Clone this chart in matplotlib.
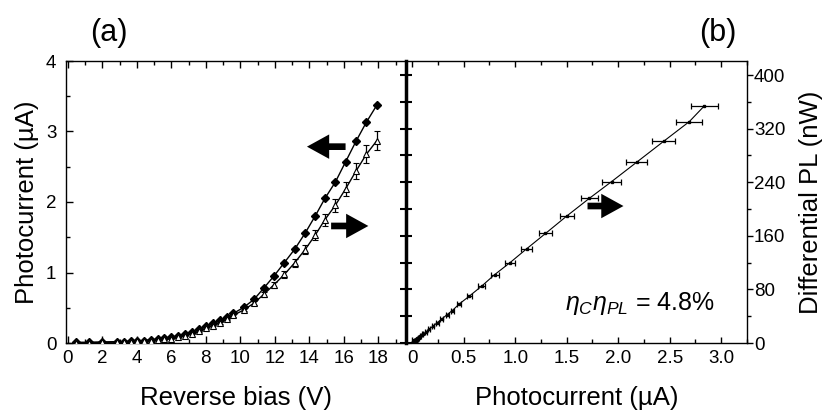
import matplotlib
matplotlib.use("Agg")
import matplotlib.pyplot as plt
from matplotlib.ticker import MultipleLocator, FuncFormatter, NullLocator

plt.rcParams['font.family'] = ['Liberation Sans', 'DejaVu Sans']
plt.rcParams['mathtext.fontset'] = 'custom'
plt.rcParams['mathtext.rm'] = 'Liberation Sans'
plt.rcParams['mathtext.it'] = 'Liberation Sans:italic'

# ---- data ----
bias_V = [0.5, 1.25, 2.0, 2.85, 3.25, 3.65, 4.0, 4.4, 4.85, 5.25, 5.6, 6.0, 6.4, 6.8,
          7.2, 7.6, 8.0, 8.4, 8.8, 9.2, 9.6, 10.2, 10.8, 11.35, 11.95, 12.55, 13.15,
          13.75, 14.35, 14.9, 15.5, 16.1, 16.7, 17.3, 17.9]
photocurrent_uA = [0.01, 0.01, 0.015, 0.02, 0.02, 0.025, 0.03, 0.035, 0.045, 0.055, 0.065,
                   0.08, 0.10, 0.125, 0.16, 0.205, 0.24, 0.28, 0.32, 0.365, 0.42, 0.506,
                   0.62, 0.776, 0.95, 1.14, 1.33, 1.556, 1.806, 2.05, 2.28, 2.57, 2.86,
                   3.13, 3.37]
diff_pl_nW = [0.5, 0.8, 1.0, 1.5, 1.8, 2.2, 2.7, 3.3, 4.2, 5.2, 6.3, 7.8, 10.0, 12.8,
              16.5, 20.5, 25.5, 30.5, 35.5, 42.5, 48.5, 58, 70, 85, 102, 120, 140.5,
              163.5, 189.5, 216, 241, 270, 301, 330.5, 354]
diff_pl_err_nW = [0.05, 0.05, 0.05, 0.1, 0.1, 0.1, 0.15, 0.15, 0.2, 0.25, 0.3, 0.4, 0.5,
                  0.6, 0.8, 1.0, 1.2, 1.4, 1.7, 2.0, 2.3, 2.7, 3.3, 4.0, 4.8, 5.7, 6.6,
                  7.7, 9.0, 10.2, 11.3, 12.7, 14.2, 15.6, 16.6]
photocurrent_b_uA = [0.004, 0.0064, 0.008, 0.012, 0.0145, 0.0177, 0.0217, 0.0265, 0.034,
                     0.042, 0.051, 0.063, 0.08, 0.103, 0.133, 0.165, 0.205, 0.245, 0.285,
                     0.34, 0.39, 0.455, 0.555, 0.675, 0.80, 0.95, 1.11, 1.294, 1.50, 1.72,
                     1.936, 2.18, 2.44, 2.69, 2.836]
photocurrent_b_err_uA = [0.0002, 0.0003, 0.0004, 0.0006, 0.0007, 0.0008, 0.001, 0.0012,
                         0.0016, 0.002, 0.0024, 0.003, 0.004, 0.005, 0.006, 0.008, 0.009,
                         0.011, 0.013, 0.016, 0.018, 0.021, 0.026, 0.032, 0.038, 0.045,
                         0.052, 0.061, 0.070, 0.081, 0.091, 0.103, 0.115, 0.127, 0.134]
annotation_text = r'$\eta_C\eta_{PL}$ = 4.8%'

fig = plt.figure(figsize=(8.25, 4.11), dpi=100)
W, H = 825, 411
x0, xm, x1 = 66, 406, 747
ytop, ybot = 61, 343
rect_a = [x0 / W, 1 - ybot / H, (xm - x0) / W, (ybot - ytop) / H]
rect_b = [xm / W, 1 - ybot / H, (x1 - xm) / W, (ybot - ytop) / H]
axa = fig.add_axes(rect_a)
axt = fig.add_axes(rect_a, label='pl_scale')
axb = fig.add_axes(rect_b)
axl = fig.add_axes(rect_b, label='shared_ticks')

LBL = 18.5
TCK = 13.5

# ---- panel (a) ----
axa.plot(bias_V, photocurrent_uA, color='k', lw=1.0, marker='D', ms=3.8,
         mfc='k', mec='k', zorder=3)
axa.set_xlim(-0.1, 19.6)
axa.set_ylim(0, 4)
axt.errorbar(bias_V, diff_pl_nW, yerr=diff_pl_err_nW, color='k', lw=1.0,
             marker='^', ms=4.3, mfc='white', mec='k', mew=0.8,
             ecolor='k', elinewidth=0.9, capsize=2.5, capthick=0.9)
axt.set_xlim(axa.get_xlim())
axt.set_ylim(0, 494)
axt.set_axis_off()

axa.spines['right'].set_visible(False)
for s in ['left', 'bottom', 'top']:
    axa.spines[s].set_linewidth(1.0)
axa.xaxis.set_major_locator(MultipleLocator(2))
axa.xaxis.set_minor_locator(MultipleLocator(1))
axa.yaxis.set_major_locator(MultipleLocator(1))
axa.yaxis.set_minor_locator(MultipleLocator(0.5))
axa.tick_params(which='both', direction='in', top=True, right=False, labelsize=TCK)
axa.tick_params(which='major', length=5, width=1)
axa.tick_params(which='minor', length=3, width=1)
axa.tick_params(axis='x', pad=5)
axa.tick_params(axis='y', pad=7)
axa.set_xlabel('Reverse bias (V)', fontsize=LBL, labelpad=14)
axa.set_ylabel('Photocurrent (\u00b5A)', fontsize=LBL, labelpad=5)

arrow = dict(arrowstyle='simple,head_length=1.0,head_width=1.1,tail_width=0.3',
             mutation_scale=16, color='k', lw=0)
axt.annotate('', xy=(13.7, 2.785 * 123.5), xytext=(16.26, 2.785 * 123.5), arrowprops=arrow)
axt.annotate('', xy=(17.58, 1.66 * 123.5), xytext=(15.1, 1.66 * 123.5), arrowprops=arrow)
axa.text(0.126, 1.10, '(a)', transform=axa.transAxes, fontsize=22, ha='center', va='center')

# ---- panel (b) ----
axb.errorbar(photocurrent_b_uA, diff_pl_nW, xerr=photocurrent_b_err_uA, color='k',
             lw=0.8, marker='s', ms=1.8, mfc='k', mec='k',
             ecolor='k', elinewidth=0.9, capsize=2.5, capthick=0.9)
axb.set_xlim(-0.06, 3.25)
axb.set_ylim(0, 421)
axb.spines['left'].set_linewidth(2.5)
for s in ['right', 'bottom', 'top']:
    axb.spines[s].set_linewidth(1.0)
axb.xaxis.set_major_locator(MultipleLocator(0.5))
axb.xaxis.set_minor_locator(MultipleLocator(0.25))
axb.yaxis.set_major_locator(MultipleLocator(80))
axb.yaxis.set_minor_locator(MultipleLocator(40))
axb.xaxis.set_major_formatter(FuncFormatter(lambda v, p: '0' if abs(v) < 1e-9 else f'{v:.1f}'))
axb.tick_params(axis='x', which='both', direction='in', top=True, bottom=True,
                labelsize=TCK, pad=5)
axb.tick_params(axis='y', which='both', direction='out', left=False, right=True,
                labelleft=False, labelright=True, labelsize=TCK, pad=1)
axb.tick_params(which='major', length=4, width=1)
axb.tick_params(which='minor', length=3, width=1)
axb.yaxis.set_label_position('right')
axb.set_xlabel('Photocurrent (\u00b5A)', fontsize=LBL, labelpad=14)
axb.set_ylabel('Differential PL (nW)', fontsize=LBL, labelpad=10)

# ticks crossing the thick shared line
axl.set_ylim(axb.get_ylim())
axl.patch.set_visible(False)
for s in axl.spines.values():
    s.set_visible(False)
axl.xaxis.set_major_locator(NullLocator())
axl.yaxis.set_major_locator(MultipleLocator(40))
axl.tick_params(axis='y', which='major', direction='inout', length=8, width=1.5,
                left=True, right=False, labelleft=False, labelright=False)

axb.annotate('', xy=(2.078, 204.5), xytext=(1.675, 204.5), arrowprops=arrow)
axb.text(0.685, 0.14, annotation_text, transform=axb.transAxes, fontsize=18,
         ha='center', va='center')
axb.text(0.913, 1.10, '(b)', transform=axb.transAxes, fontsize=22, ha='center', va='center')

fig.savefig('out.png', dpi=100)
